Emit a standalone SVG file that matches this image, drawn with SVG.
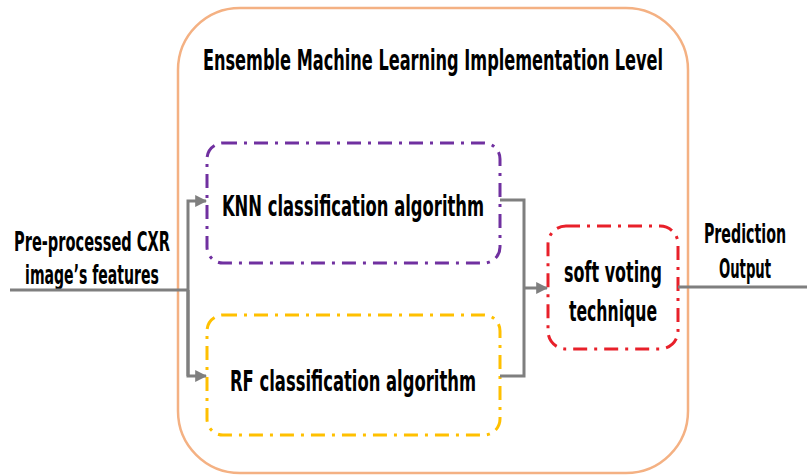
<svg xmlns="http://www.w3.org/2000/svg" width="807" height="476" viewBox="0 0 807 476">
<style>
.t{font-family:"DejaVu Sans Condensed","Liberation Sans",sans-serif;font-weight:bold;fill:#000;text-anchor:middle}
.box{fill:none;stroke-width:3;stroke-dasharray:14 7 3 7}
.ln{fill:none;stroke:#7f7f7f;stroke-width:3}
</style>
<defs>
<marker id="ah" viewBox="0 0 10 10" refX="9" refY="5" markerWidth="4" markerHeight="4" orient="auto" markerUnits="strokeWidth">
<path d="M0,0 L10,5 L0,10 z" fill="#7f7f7f"/>
</marker>
</defs>
<rect width="807" height="476" fill="#fff"/>
<g id="ensemble">
<rect x="178" y="8" width="510" height="465" rx="62" ry="62" fill="none" stroke="#f4b183" stroke-width="2.5"/>
<text class="t" transform="translate(433,70) scale(0.6,1)" font-size="28" textLength="767" lengthAdjust="spacingAndGlyphs">Ensemble Machine Learning Implementation Level</text>
</g>
<g id="knn">
<rect class="box" x="207" y="143" width="293" height="120" rx="16" stroke="#7030a0"/>
<text class="t" transform="translate(353,216) scale(0.6,1)" font-size="29" textLength="437" lengthAdjust="spacingAndGlyphs">KNN classification algorithm</text>
</g>
<g id="rf">
<rect class="box" x="207" y="315" width="293" height="120" rx="16" stroke="#ffc000"/>
<text class="t" transform="translate(353,391) scale(0.6,1)" font-size="29" textLength="410" lengthAdjust="spacingAndGlyphs">RF classification algorithm</text>
</g>
<g id="voting">
<rect class="box" x="548" y="226" width="130" height="123" rx="18" stroke="#e8202a"/>
<text class="t" transform="translate(613,282) scale(0.6,1)" font-size="28" textLength="163" lengthAdjust="spacingAndGlyphs">soft voting</text>
<text class="t" transform="translate(613,321) scale(0.6,1)" font-size="28" textLength="147" lengthAdjust="spacingAndGlyphs">technique</text>
</g>
<g id="input-label">
<text class="t" transform="translate(92,251) scale(0.6,1)" font-size="27" textLength="260" lengthAdjust="spacingAndGlyphs">Pre-processed CXR</text>
<text class="t" transform="translate(92,284) scale(0.6,1)" font-size="27" textLength="223" lengthAdjust="spacingAndGlyphs">image’s features</text>
</g>
<g id="output-label">
<text class="t" transform="translate(745,243) scale(0.6,1)" font-size="26" textLength="137" lengthAdjust="spacingAndGlyphs">Prediction</text>
<text class="t" transform="translate(745,278) scale(0.6,1)" font-size="26" textLength="87" lengthAdjust="spacingAndGlyphs">Output</text>
</g>
<g id="connectors">
<path class="ln" d="M10,290 H188"/>
<path class="ln" d="M188,376 V201 H206" marker-end="url(#ah)"/>
<path class="ln" d="M188,290 V376 H206" marker-end="url(#ah)"/>
<path class="ln" d="M500,200 H524 V376 H500"/>
<path class="ln" d="M524,288 H547" marker-end="url(#ah)"/>
<path class="ln" d="M678,287 H807"/>
</g>
</svg>
